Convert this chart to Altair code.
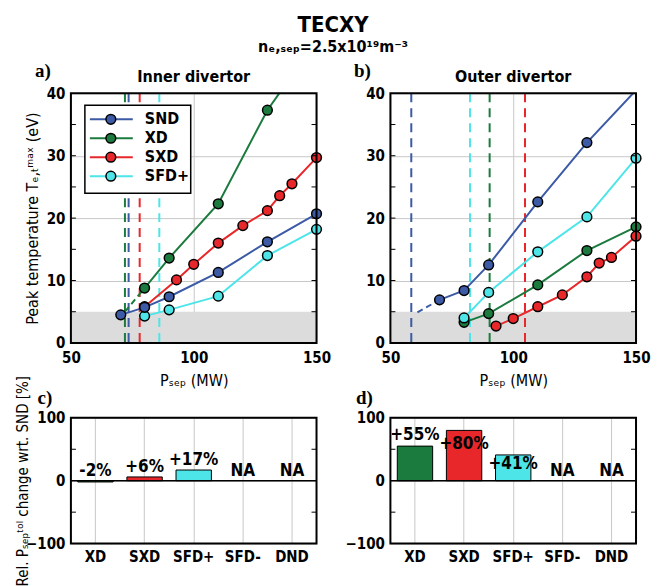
import altair as alt
import pandas as pd

FONT = "DejaVu Sans Condensed, Liberation Sans Narrow, Arial Narrow, Liberation Sans, sans-serif"
SERIF = "Liberation Serif, Times New Roman, serif"

series = ["SND", "XD", "SXD", "SFD+"]
series_colors = ["#3c5aa6", "#1b7b3e", "#e8272b", "#4de5e8"]
draw_rank = {"XD": 0, "SXD": 1, "SFD+": 2, "SND": 3}

# ---- panel a) inner divertor: P_sep (MW) vs peak Te (eV)
a_snd_p = [70.3, 80, 90, 110, 130, 150]
a_snd_t = [4.5, 5.7, 7.4, 11.3, 16.2, 20.7]
a_xd_p = [80, 90, 110, 130, 150]
a_xd_t = [8.8, 13.6, 22.3, 37.3, 48.5]
a_sxd_p = [80, 93, 100, 110, 120, 130, 135, 140, 150]
a_sxd_t = [5.8, 10.1, 12.6, 16.0, 18.8, 21.2, 23.6, 25.5, 29.7]
a_sfd_p = [80, 90, 110, 130, 150]
a_sfd_t = [4.3, 5.3, 7.5, 14.0, 18.2]
a_tol = [73.5, 72.0, 78.0, 86.0]          # SND, XD, SXD, SFD+
a_ext_s = ["XD", "XD"]
a_ext_p = [80, 72.0]
a_ext_t = [8.8, 5.0]

# ---- panel b) outer divertor
b_snd_p = [70, 80, 90, 110, 130, 150]
b_snd_t = [6.9, 8.4, 12.5, 22.6, 32.1, 40.5]
b_xd_p = [80, 90, 110, 130, 150]
b_xd_t = [3.3, 4.7, 9.3, 14.8, 18.6]
b_sxd_p = [93, 100, 110, 120, 130, 135, 140, 150]
b_sxd_t = [2.7, 3.9, 5.8, 7.7, 10.6, 12.8, 13.7, 17.1]
b_sfd_p = [80, 90, 110, 130, 150]
b_sfd_t = [4.0, 8.1, 14.6, 20.2, 29.6]
b_tol = [58.5, 90.4, 104.8, 82.4]         # SND, XD, SXD, SFD+
b_ext_s = ["SND", "SND"]
b_ext_p = [70, 61]
b_ext_t = [6.9, 4.9]

# threshold band (eV)
shade_lo, shade_hi = 0, 5

# ---- bottom panels: relative tolerable P_sep change wrt SND (%)
categories = ["XD", "SXD", "SFD+", "SFD-", "DND"]
bar_colors = ["#1b7b3e", "#e8272b", "#4de5e8"]
c_vals = [-2, 6, 17, None, None]
c_labels = ["-2%", "+6%", "+17%", "NA", "NA"]
c_label_y = [15, 22, 33, 15, 15]
d_vals = [55, 80, 41, None, None]
d_labels = ["+55%", "+80%", "+41%", "NA", "NA"]
d_label_y = [73, 58, 26, 15, 15]

top_ticks = [5, 10, 15, 20, 25, 30, 35]
bot_ticks = [-50, 50]

W, H = 246, 250
BH = 126

col = alt.Color("s:N", scale=alt.Scale(domain=series, range=series_colors), legend=None)


def long_df(groups):
    rows = []
    for name, ps, ts in groups:
        for p, t in zip(ps, ts):
            rows.append({"s": name, "p": p, "t": t, "k": draw_rank[name]})
    df = pd.DataFrame(rows)
    return df.sort_values(["k", "p"]).reset_index(drop=True)


def frame(w, h):
    return alt.Chart(pd.DataFrame({"f": [0]})).mark_rect(
        fillOpacity=0, stroke="black", strokeWidth=2
    ).encode(x=alt.value(0), x2=alt.value(w), y=alt.value(0), y2=alt.value(h))


def text_mark(txt, dx, dy, font, size, weight="bold"):
    return alt.Chart(pd.DataFrame({"t": [txt]})).mark_text(
        font=font, fontSize=size, fontWeight=weight, align="center", baseline="middle"
    ).encode(x=alt.value(dx), y=alt.value(dy), text="t:N")


def side_ticks(vals, scale, w):
    d = pd.DataFrame({"v": vals})
    left = alt.Chart(d).mark_rule(color="black", strokeWidth=1).encode(
        y=alt.Y("v:Q", scale=scale), x=alt.value(0), x2=alt.value(5))
    right = alt.Chart(d).mark_rule(color="black", strokeWidth=1).encode(
        y=alt.Y("v:Q", scale=scale), x=alt.value(w - 5), x2=alt.value(w))
    return [left, right]


def top_panel(df, ext, tol, title, letter, ytitle, legend):
    xs = alt.Scale(domain=[50, 150], nice=False, zero=False)
    ys = alt.Scale(domain=[0, 40], nice=False)
    xax = alt.Axis(values=[50, 100, 150], title="Pₛₑₚ (MW)", grid=True, labelFlush=False,
                   labelPadding=8, titlePadding=7)
    ykw = dict(values=[0, 10, 20, 30, 40], grid=True, labelPadding=6, labelFlush=False,
               minExtent=24, maxExtent=24)
    if ytitle:
        ykw.update(title=ytitle, titlePadding=6)
    else:
        ykw.update(title=None)
    yax = alt.Axis(**ykw)
    shade = alt.Chart(pd.DataFrame({"x0": [50], "x1": [150], "y0": [shade_lo], "y1": [shade_hi]})).mark_rect(
        color="#dcdcdc").encode(
        x=alt.X("x0:Q", scale=xs, axis=xax), x2="x1:Q",
        y=alt.Y("y0:Q", scale=ys, axis=yax), y2="y1:Q")
    tol_df = pd.DataFrame({"s": series, "p": tol})
    rules = alt.Chart(tol_df).mark_rule(strokeDash=[9, 6], strokeWidth=2).encode(
        x=alt.X("p:Q", scale=xs), color=col)
    lines = alt.Chart(df).mark_line(strokeWidth=2, clip=True).encode(
        x=alt.X("p:Q", scale=xs), y=alt.Y("t:Q", scale=ys), color=col, order="p:Q")
    exts = alt.Chart(ext).mark_line(strokeWidth=2, strokeDash=[6, 4], clip=True).encode(
        x=alt.X("p:Q", scale=xs), y=alt.Y("t:Q", scale=ys), color=col, order="p:Q")
    pts = alt.Chart(df).transform_filter("datum.t <= 40").mark_circle(
        size=95, opacity=1, stroke="black", strokeWidth=1.5).encode(
        x=alt.X("p:Q", scale=xs), y=alt.Y("t:Q", scale=ys), color=col, order="k:Q")
    layers = [shade, rules, lines, exts, pts] + side_ticks(top_ticks, ys, W) + [
        frame(W, H),
        text_mark(letter, -28, -22, SERIF, 19),
        text_mark(title, W / 2, -16, FONT, 16),
    ]
    if legend:
        ld = pd.DataFrame({"s": series, "i": list(range(len(series)))})
        box = alt.Chart(pd.DataFrame({"f": [0]})).mark_rect(
            fill="white", stroke="black", strokeWidth=1.5).encode(
            x=alt.value(14), x2=alt.value(120), y=alt.value(12), y2=alt.value(100))
        base = alt.Chart(ld).transform_calculate(ly="26 + 19*datum.i")
        ll = base.mark_rule(strokeWidth=2).encode(
            x=alt.value(19), x2=alt.value(62), y=alt.Y("ly:Q", scale=None, axis=None), color=col)
        lc = base.mark_circle(size=95, opacity=1, stroke="black", strokeWidth=1.5).encode(
            x=alt.value(40), y=alt.Y("ly:Q", scale=None, axis=None), color=col)
        lt = base.mark_text(font=FONT, fontSize=16, fontWeight="bold", align="left",
                            baseline="middle").encode(
            x=alt.value(74), y=alt.Y("ly:Q", scale=None, axis=None), text="s:N")
        layers += [box, ll, lc, lt]
    return alt.layer(*layers).properties(width=W, height=H)


def bottom_panel(vals, labs, laby, letter, ytitle):
    df = pd.DataFrame({"cat": categories, "v": [float("nan") if v is None else v for v in vals],
                       "lab": labs, "ly": laby})
    xs = alt.Scale(domain=categories, paddingInner=0, paddingOuter=0)
    ys = alt.Scale(domain=[-100, 100], nice=False)
    xax = alt.Axis(title=None, grid=True, labelAngle=0, labelPadding=6)
    ykw = dict(values=[-100, -50, 0, 50, 100], grid=True, labelPadding=6, labelFlush=False,
               labelExpr="abs(datum.value) == 50 ? '' : datum.label",
               minExtent=34, maxExtent=34)
    if ytitle:
        ykw.update(title=ytitle, titlePadding=6, titleFontSize=15)
    else:
        ykw.update(title=None)
    yax = alt.Axis(**ykw)
    bars = alt.Chart(df).transform_filter("isValid(datum.v) && isFinite(datum.v)").mark_bar(
        width=alt.RelativeBandSize(0.72), stroke="black", strokeWidth=1).encode(
        x=alt.X("cat:N", scale=xs, axis=xax, sort=categories),
        y=alt.Y("v:Q", scale=ys, axis=yax),
        color=alt.Color("cat:N", scale=alt.Scale(domain=categories[:3], range=bar_colors), legend=None))
    zero = alt.Chart(pd.DataFrame({"z": [0]})).mark_rule(color="black", strokeWidth=1.5).encode(
        y=alt.Y("z:Q", scale=ys))
    txt = alt.Chart(df).mark_text(font=FONT, fontSize=17, fontWeight="bold", baseline="middle").encode(
        x=alt.X("cat:N", scale=xs, sort=categories), y=alt.Y("ly:Q", scale=ys), text="lab:N")
    layers = [bars, zero, txt] + side_ticks(bot_ticks, ys, W) + [
        frame(W, BH), text_mark(letter, -26, -20, SERIF, 19)]
    return alt.layer(*layers).properties(width=W, height=BH)


a_df = long_df([("SND", a_snd_p, a_snd_t), ("XD", a_xd_p, a_xd_t),
                ("SXD", a_sxd_p, a_sxd_t), ("SFD+", a_sfd_p, a_sfd_t)])
b_df = long_df([("SND", b_snd_p, b_snd_t), ("XD", b_xd_p, b_xd_t),
                ("SXD", b_sxd_p, b_sxd_t), ("SFD+", b_sfd_p, b_sfd_t)])
a_ext = pd.DataFrame({"s": a_ext_s, "p": a_ext_p, "t": a_ext_t})
b_ext = pd.DataFrame({"s": b_ext_s, "p": b_ext_p, "t": b_ext_t})

pa = top_panel(a_df, a_ext, a_tol, "Inner divertor", "a)", "Peak temperature Tₑ,ₜᵐᵃˣ (eV)", True)
pb = top_panel(b_df, b_ext, b_tol, "Outer divertor", "b)", None, False)
pc = bottom_panel(c_vals, c_labels, c_label_y, "c)", "Rel. Pₛₑₚᵗᵒˡ change wrt. SND [%]")
pd_ = bottom_panel(d_vals, d_labels, d_label_y, "d)", None)

chart = alt.concat(
    pa, pb, pc, pd_, columns=2, spacing={"row": 75, "column": 74}, bounds="flush",
).properties(
    title=alt.Title("TECXY", subtitle="nₑ,ₛₑₚ=2.5x10¹⁹m⁻³", fontSize=22, subtitleFontSize=16,
                    font=FONT, subtitleFont=FONT, fontWeight="bold", subtitleFontWeight="bold",
                    anchor="middle", offset=6, color="black", subtitleColor="black", subtitlePadding=2),
    padding={"left": 7, "top": 5, "right": 0, "bottom": 0},
).configure_view(stroke="transparent").configure_axis(
    domain=False, ticks=False, labelFont=FONT, labelFontSize=15, labelFontWeight="bold",
    labelColor="black", titleFont=FONT, titleFontSize=16, titleFontWeight="normal",
    titleColor="black", gridColor="#c8c8c8", gridWidth=1,
)

chart.save("out.html", embed_options={"renderer": "svg", "actions": False})
